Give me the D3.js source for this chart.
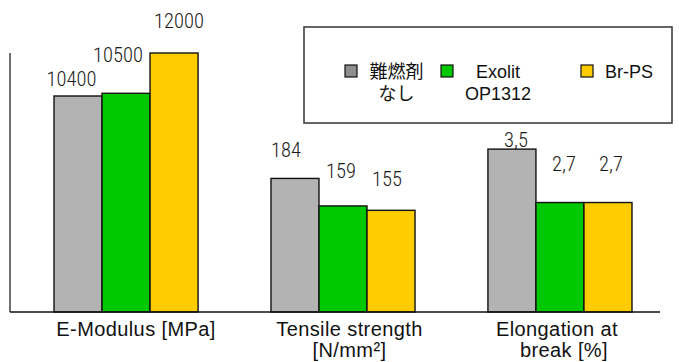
<!DOCTYPE html>
<html>
<head>
<meta charset="utf-8">
<script src="https://cdn.jsdelivr.net/npm/d3@7"></script>
<style>
  html, body { margin: 0; padding: 0; background: #fff; }
  svg { display: block; }
</style>
</head>
<body>
<svg id="chart" width="679" height="362"></svg>
<script>
// Material properties: three metrics, three flame-retardant variants
const metrics = ["E-Modulus [MPa]", "Tensile strength [N/mm²]", "Elongation at break [%]"];
const metricLines = [["E-Modulus [MPa]"], ["Tensile strength", "[N/mm²]"], ["Elongation at", "break [%]"]];
const series = ["難燃剤なし", "Exolit OP1312", "Br-PS"];
const seriesLegend = [["難燃剤", "なし"], ["Exolit", "OP1312"], ["Br-PS"]];
const noRetardant = [10400, 184, 3.5];
const exolit = [10500, 159, 2.7];
const brPS = [12000, 155, 2.7];
const valueText = [["10400", "10500", "12000"], ["184", "159", "155"], ["3,5", "2,7", "2,7"]];
// each metric has its own value axis (min, max)
const axisMin = [2363, 62.6, 1.06];
const axisMax = [12000, 298, 4.94];

const colors = ["#b3b3b3", "#00c800", "#ffcc00"];
const legendColors = ["#8f8f8f", "#00c800", "#ffcc00"];

const svg = d3.select("#chart");
const baseY = 312, topY = 53, axisX = 10, axisEnd = 660;

const x0 = d3.scaleBand().domain(metrics).range([18, 668])
  .paddingInner(0.336).paddingOuter(0.166);
const x1 = d3.scaleBand().domain(series).range([0, x0.bandwidth()]).padding(0);
const yScales = metrics.map((m, i) =>
  d3.scaleLinear().domain([axisMin[i], axisMax[i]]).range([baseY, topY]));

const rows = metrics.map((m, i) => ({
  metric: m, i,
  values: [noRetardant[i], exolit[i], brPS[i]]
}));

// hand-placed value label nudges [dx, dy] relative to bar centre/top
const labelNudge = [
  [[-6.5, -10], [-8, -31.6], [5, -25.3]],
  [[-9, -21.8], [-2, -27.7], [-4, -24.4]],
  [[4, -2.4], [4, -31.8], [3, -31.8]]
];

const groups = svg.selectAll("g.grp").data(rows).join("g")
  .attr("class", "grp")
  .attr("transform", d => `translate(${x0(d.metric)},0)`);

groups.selectAll("rect").data(d => d.values.map((v, j) => ({ v, j, i: d.i })))
  .join("rect")
  .attr("x", d => x1(series[d.j]))
  .attr("y", d => yScales[d.i](d.v))
  .attr("width", x1.bandwidth())
  .attr("height", d => baseY - yScales[d.i](d.v))
  .attr("fill", d => colors[d.j])
  .attr("stroke", "#111")
  .attr("stroke-width", 1.4);

groups.selectAll("text.val").data(d => d.values.map((v, j) => ({ v, j, i: d.i })))
  .join("text")
  .attr("class", "val")
  .attr("x", d => x1(series[d.j]) + x1.bandwidth() / 2 + labelNudge[d.i][d.j][0])
  .attr("y", d => yScales[d.i](d.v) + labelNudge[d.i][d.j][1])
  .attr("text-anchor", "middle")
  .attr("font-family", "'Roboto Condensed', 'DejaVu Sans Condensed', sans-serif")
  .attr("font-size", 20.5)
  .attr("font-weight", 300)
  .attr("fill", "#1a1a1a")
  .text(d => valueText[d.i][d.j]);

// axes lines
svg.append("line").attr("x1", axisX).attr("x2", axisX).attr("y1", topY).attr("y2", baseY)
  .attr("stroke", "#111").attr("stroke-width", 1.2);
svg.append("line").attr("x1", axisX).attr("x2", axisEnd).attr("y1", baseY).attr("y2", baseY)
  .attr("stroke", "#111").attr("stroke-width", 1.5);

// category labels
const catNudge = [[10, 0], [6.5, 4], [-3, 4]];
const catLineNudge = [[0], [0, 0], [0, 7]];
metrics.forEach((m, i) => {
  const cx = x0(m) + x0.bandwidth() / 2 + catNudge[i][0];
  const t = svg.append("text")
    .attr("text-anchor", "middle")
    .attr("font-family", "'Liberation Sans', Arial, sans-serif")
    .attr("font-size", 20)
    .attr("letter-spacing", 0.4)
    .attr("fill", "#111");
  metricLines[i].forEach((line, k) => {
    t.append("tspan").attr("x", cx + catLineNudge[i][k]).attr("y", 336 + k * 21).text(line);
  });
});

// legend
const lg = svg.append("g");
lg.append("rect").attr("x", 304).attr("y", 27).attr("width", 368).attr("height", 96)
  .attr("fill", "#fff").attr("stroke", "#333").attr("stroke-width", 1.5);
const swatchX = [345, 441, 581];
const textX = [396.5, 498, 605];
const anchors = ["middle", "middle", "start"];
series.forEach((s, j) => {
  lg.append("rect").attr("x", swatchX[j]).attr("y", 65).attr("width", 12).attr("height", 12)
    .attr("fill", legendColors[j]).attr("stroke", "#111").attr("stroke-width", 1.2);
  const t = lg.append("text")
    .attr("text-anchor", anchors[j])
    .attr("font-family", "'Liberation Sans', Arial, 'Noto Sans CJK JP', sans-serif")
    .attr("font-size", 18)
    .attr("fill", "#111");
  seriesLegend[j].forEach((line, k) => {
    t.append("tspan").attr("x", textX[j]).attr("y", 78 + k * 22).text(line);
  });
});
</script>
</body>
</html>
